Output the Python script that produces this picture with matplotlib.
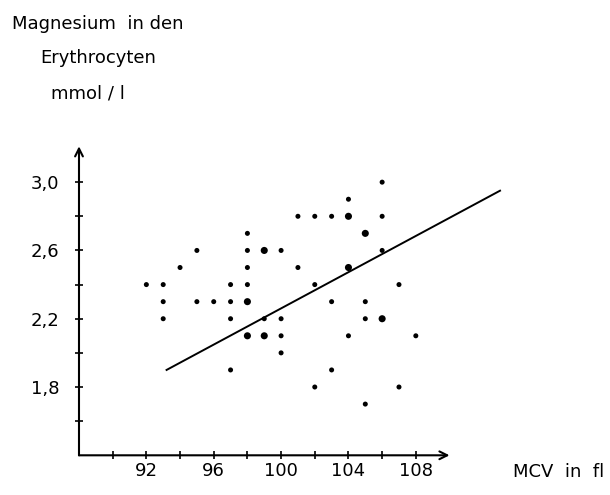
import numpy as np
import matplotlib.pyplot as plt

# Data: MCV (fl) vs. Magnesium in den Erythrocyten (mmol/l)
mcv = [92,
       93, 93, 93,
       94,
       95, 95,
       96,
       97, 97, 97, 97,
       98, 98, 98, 98, 98, 98,
       99, 99, 99,
       100, 100, 100, 100,
       101, 101,
       102, 102, 102,
       103, 103, 103,
       104, 104, 104, 104,
       105, 105, 105, 105,
       106, 106, 106, 106,
       107, 107,
       108]
magnesium = [2.4,
             2.4, 2.3, 2.2,
             2.5,
             2.6, 2.3,
             2.3,
             2.4, 2.3, 2.2, 1.9,
             2.7, 2.6, 2.5, 2.4, 2.3, 2.1,
             2.6, 2.2, 2.1,
             2.6, 2.2, 2.1, 2.0,
             2.8, 2.5,
             2.8, 2.4, 1.8,
             2.8, 2.3, 1.9,
             2.9, 2.8, 2.5, 2.1,
             2.7, 2.3, 2.2, 1.7,
             3.0, 2.8, 2.6, 2.2,
             2.4, 1.8,
             2.1]
# 1 = larger dot (overlapping values)
big = [0,
       0, 0, 0,
       0,
       0, 0,
       0,
       0, 0, 0, 0,
       0, 0, 0, 0, 1, 1,
       1, 0, 1,
       0, 0, 0, 0,
       0, 0,
       0, 0, 0,
       0, 0, 0,
       0, 1, 1, 0,
       1, 0, 0, 0,
       0, 0, 0, 1,
       0, 0,
       0]

# regression line end points
line_x = [93.2, 113.0]
line_y = [1.90, 2.95]

x_ticks = [90, 92, 94, 96, 98, 100, 102, 104, 106, 108]
x_labels = ["", "92", "", "96", "", "100", "", "104", "", "108"]
y_ticks = [1.6, 1.8, 2.0, 2.2, 2.4, 2.6, 2.8, 3.0]
y_labels = ["", "1,8", "", "2,2", "", "2,6", "", "3,0"]

plt.rcParams['font.family'] = ['DejaVu Sans']

fig = plt.figure(figsize=(6.1, 4.95), dpi=100)
ax = fig.add_axes([0.1295, 0.0802, 0.7885, 0.637])
ax.set_xlim(88, 116.56)
ax.set_ylim(1.4, 3.247)

sizes = np.where(np.array(big) == 1, 26, 13)
ax.scatter(mcv, magnesium, s=sizes, color='black', linewidths=0, zorder=3)
ax.plot(line_x, line_y, color='black', lw=1.4)

# axes with arrows
for s in ax.spines.values():
    s.set_visible(False)
arrow = dict(arrowstyle='->', color='black', lw=1.5, mutation_scale=14,
             shrinkA=0, shrinkB=0)
ax.annotate('', xy=(110.0, 1.4), xytext=(88, 1.4), arrowprops=arrow,
            annotation_clip=False)
ax.annotate('', xy=(88, 3.21), xytext=(88, 1.4), arrowprops=arrow,
            annotation_clip=False)

ax.set_xticks(x_ticks)
ax.set_xticklabels(x_labels)
ax.set_yticks(y_ticks)
ax.set_yticklabels(y_labels)
ax.tick_params(axis='x', direction='inout', length=6, width=1.2, pad=2,
               labelsize=13)
ax.tick_params(axis='y', direction='inout', length=6, width=1.2, pad=11,
               labelsize=13)

fig.text(12 / 610, 1 - 29 / 495, "Magnesium  in den", fontsize=13,
         ha='left', va='baseline')
fig.text(40 / 610, 1 - 63 / 495, "Erythrocyten", fontsize=13,
         ha='left', va='baseline')
fig.text(51 / 610, 1 - 98 / 495, "mmol / l", fontsize=13,
         ha='left', va='baseline')
fig.text(513 / 610, 1 - 477 / 495, "MCV  in  fl", fontsize=13,
         ha='left', va='baseline')

fig.savefig("out.png", dpi=100)
